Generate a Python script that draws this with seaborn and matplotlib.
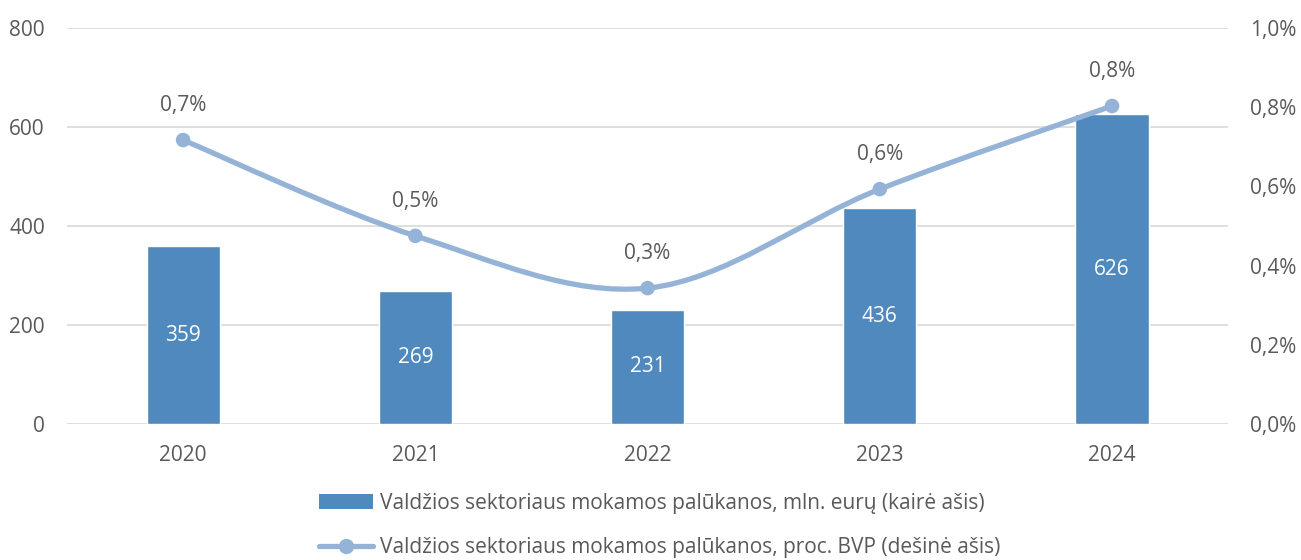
import numpy as np
import pandas as pd
import seaborn as sns
import matplotlib.pyplot as plt
from matplotlib.path import Path
from matplotlib.patches import PathPatch
from matplotlib.lines import Line2D
from matplotlib.patches import Patch

# duomenys
years = ["2020", "2021", "2022", "2023", "2024"]
interest_mln = [359, 269, 231, 436, 626]
interest_gdp = [0.717, 0.475, 0.343, 0.593, 0.803]  # proc. BVP
gdp_labels = ["0,7%", "0,5%", "0,3%", "0,6%", "0,8%"]

bar_label = "Valdžios sektoriaus mokamos palūkanos, mln. eurų (kairė ašis)"
line_label = "Valdžios sektoriaus mokamos palūkanos, proc. BVP (dešinė ašis)"

sns.set_theme(style="white")
plt.rcParams['font.family'] = ['Open Sans', 'DejaVu Sans']

text_color = "#595959"
bar_color = "#4F89BD"
line_color = "#95B3D7"
grid_color = "#D9D9D9"
fs = 15

df = pd.DataFrame({"year": years, "mln": interest_mln, "gdp": interest_gdp})

fig = plt.figure(figsize=(13.01, 5.6), dpi=100)
ax = fig.add_axes([0.0515, 0.243, 0.8925, 0.707])

sns.barplot(data=df, x="year", y="mln", color=bar_color, width=0.315,
            saturation=1, ax=ax, zorder=2)
ax.set_xlim(-0.5, 4.5)
ax.set_ylim(0, 800)
ax.set_yticks([0, 200, 400, 600, 800])
ax.yaxis.grid(True, color=grid_color, linewidth=1.2, zorder=0)
ax.set_axisbelow(True)
for s in ax.spines.values():
    s.set_visible(False)
ax.set_xlabel("")
ax.set_ylabel("")
ax.tick_params(axis="both", colors=text_color, labelsize=fs, length=0)
ax.tick_params(axis="x", pad=15)
ax.tick_params(axis="y", pad=16)

# reikšmės stulpeliuose
for i, v in enumerate(interest_mln):
    ax.text(i, v / 2, str(v), ha="center", va="center", color="white", fontsize=fs)

# dešinė ašis
ax2 = ax.twinx()
ax2.set_ylim(0, 1.0)
ax2.set_yticks([0, 0.2, 0.4, 0.6, 0.8, 1.0])
ax2.set_yticklabels([f"{t:.1f}".replace(".", ",") + "%" for t in [0, 0.2, 0.4, 0.6, 0.8, 1.0]])
ax2.tick_params(axis="y", colors=text_color, labelsize=fs, length=0, pad=16)
for s in ax2.spines.values():
    s.set_visible(False)
ax2.grid(False)

# glotni linija (Catmull-Rom per Bezier)
xs = np.arange(len(years), dtype=float)
ys = np.array(interest_gdp)
px = np.concatenate([[xs[0]], xs, [xs[-1]]])
py = np.concatenate([[ys[0]], ys, [ys[-1]]])
verts = [(xs[0], ys[0])]
codes = [Path.MOVETO]
for i in range(1, len(px) - 2):
    c1 = (px[i] + (px[i + 1] - px[i - 1]) / 6, py[i] + (py[i + 1] - py[i - 1]) / 6)
    c2 = (px[i + 1] - (px[i + 2] - px[i]) / 6, py[i + 1] - (py[i + 2] - py[i]) / 6)
    verts += [c1, c2, (px[i + 1], py[i + 1])]
    codes += [Path.CURVE4] * 3
ax2.add_patch(PathPatch(Path(verts, codes), facecolor="none", edgecolor=line_color,
                        linewidth=3.8, capstyle="round", zorder=3))
sns.scatterplot(x=xs, y=ys, ax=ax2, color=line_color, s=110, edgecolor="none", zorder=4)

for x, y, t in zip(xs, ys, gdp_labels):
    ax2.annotate(t, (x, y), xytext=(0, 25), textcoords="offset points",
                 ha="center", va="center", color=text_color, fontsize=fs)

# legenda
handles = [Patch(facecolor=bar_color, edgecolor="none"),
           Line2D([0], [0], color=line_color, linewidth=3.8, marker="o", markersize=10)]
fig.legend(handles, [bar_label, line_label], loc="center", bbox_to_anchor=(0.507, 0.0616),
           ncol=1, frameon=False, fontsize=fs, labelcolor=text_color,
           handlelength=2.6, handletextpad=0.3, labelspacing=1.1)

plt.savefig("out.png", dpi=100)
plt.close()
